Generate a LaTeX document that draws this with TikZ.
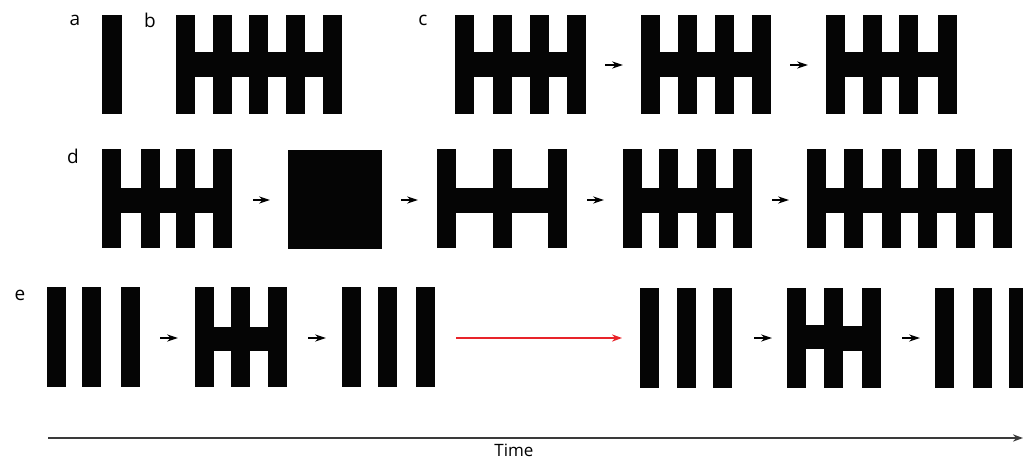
\documentclass[tikz,border=0pt]{standalone}
\usepackage{fontspec}
\setmainfont{Open Sans}
\usetikzlibrary{arrows.meta}
\definecolor{redarr}{HTML}{E8242A}
\definecolor{axisgray}{HTML}{3A3A3A}
\tikzset{
  blk/.style={fill=black!98},
  smallarr/.style={-{Stealth[length=5.5pt,width=3.6pt]}, line width=0.6pt, black},
  redline/.style={-{Stealth[length=5pt,width=3.6pt]}, line width=0.8pt, redarr},
  axisline/.style={-{Stealth[length=5pt,width=3.6pt]}, line width=0.9pt, axisgray},
  lbl/.style={font=\fontsize{9.5}{10}\selectfont, inner sep=0pt},
  timelbl/.style={font=\fontsize{8.5}{10}\selectfont, inner sep=0pt, anchor=base}
}
\begin{document}
\begin{tikzpicture}[x=0.5pt, y=-0.5pt]
\useasboundingbox (0,0) rectangle (1023,461);
% ---------- labels
\node[lbl] (la) at (75,20) {a};
\node[lbl] (lb) at (150,20) {b};
\node[lbl] (lc) at (423,20) {c};
\node[lbl] (ld) at (73,156) {d};
\node[lbl] (le) at (20,295) {e};
% ---------- row a / b / c  (y 15-114, cross 52-77)
\fill[blk] (102,15) rectangle (122,114);
% b
\foreach \x in {176,212.5,249,286,323} \fill[blk] (\x,15) rectangle ++(19,99);
\fill[blk] (176,52) rectangle (342,77);
% c group 1
\foreach \x in {455,493,529.5,566.5} \fill[blk] (\x,15) rectangle ++(19,99);
\fill[blk] (455,52) rectangle (585,77);
\coordinate (c1s) at (605,65); \coordinate (c1e) at (623,65);
\draw[smallarr] (c1s) -- (c1e);
% c group 2
\foreach \x in {641,678,714.5,751.5} \fill[blk] (\x,15) rectangle ++(19,99);
\fill[blk] (641,52) rectangle (770,77);
\coordinate (c2s) at (790,65); \coordinate (c2e) at (808,65);
\draw[smallarr] (c2s) -- (c2e);
% c group 3
\foreach \x in {826,863,898.5,937.5} \fill[blk] (\x,15) rectangle ++(19,99);
\fill[blk] (826,52) rectangle (956,77);
% ---------- row d (y 149-248, cross 188-213)
\foreach \x in {102,140.5,176,212.5} \fill[blk] (\x,149) rectangle ++(19,99);
\fill[blk] (102,188) rectangle (231,213);
\coordinate (d1s) at (253,200); \coordinate (d1e) at (270,200);
\draw[smallarr] (d1s) -- (d1e);
\fill[blk] (288,150) rectangle (382,249);
\coordinate (d2s) at (401,200); \coordinate (d2e) at (418,200);
\draw[smallarr] (d2s) -- (d2e);
\foreach \x in {437,493,548} \fill[blk] (\x,149) rectangle ++(19,99);
\fill[blk] (437,188) rectangle (567,213);
\coordinate (d3s) at (587,200); \coordinate (d3e) at (604,200);
\draw[smallarr] (d3s) -- (d3e);
\foreach \x in {622.5,659,696.5,733} \fill[blk] (\x,149) rectangle ++(19,99);
\fill[blk] (623,188) rectangle (752,213);
\coordinate (d4s) at (772,200); \coordinate (d4e) at (789,200);
\draw[smallarr] (d4s) -- (d4e);
\foreach \x in {807,844,881.5,918,955.5,993} \fill[blk] (\x,149) rectangle ++(19,99);
\fill[blk] (807,188) rectangle (1012,213);
% ---------- row e (y 287-387, cross 326-350)
\foreach \x in {46.5,82,120.5} \fill[blk] (\x,287) rectangle ++(19,100);
\coordinate (e1s) at (160,338); \coordinate (e1e) at (178,338);
\draw[smallarr] (e1s) -- (e1e);
\foreach \x in {194.5,230.5,268} \fill[blk] (\x,287) rectangle ++(19,100);
\fill[blk] (213,327) rectangle (231,351);
\fill[blk] (249,327) rectangle (268,351);
\coordinate (e2s) at (308,338); \coordinate (e2e) at (326,338);
\draw[smallarr] (e2s) -- (e2e);
\foreach \x in {342,378,416} \fill[blk] (\x,287) rectangle ++(19,100);
\coordinate (rs) at (456,338); \coordinate (re) at (622,338);
\draw[redline] (rs) -- (re);
\foreach \x in {640,677,713} \fill[blk] (\x,288) rectangle ++(19,100);
\coordinate (e3s) at (754,338); \coordinate (e3e) at (772,338);
\draw[smallarr] (e3s) -- (e3e);
\foreach \x in {787,824,862} \fill[blk] (\x,288) rectangle ++(19,100);
\fill[blk] (805,325) rectangle (824,349);
\fill[blk] (843,326) rectangle (862,351);
\coordinate (e4s) at (902,338); \coordinate (e4e) at (920,338);
\draw[smallarr] (e4s) -- (e4e);
\foreach \x in {935,973,1009} \fill[blk] (\x,288) rectangle ++(19,100);
% ---------- time axis
\coordinate (ts) at (48,438); \coordinate (te) at (1023,438);
\draw[axisline] (ts) -- (te);
\node[timelbl] (time) at (514,456) {Time};
\end{tikzpicture}
\end{document}
